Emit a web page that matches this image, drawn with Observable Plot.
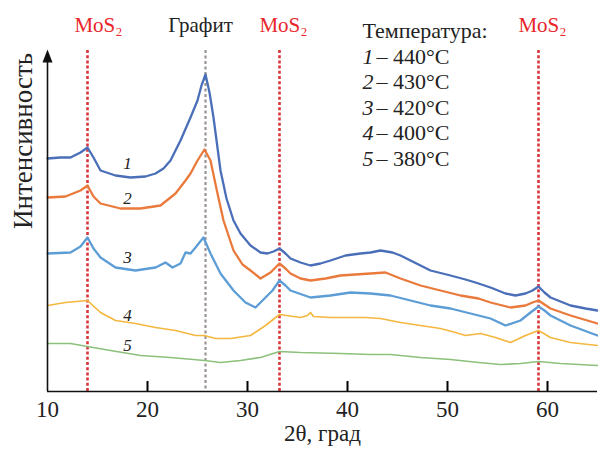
<!DOCTYPE html>
<html>
<head>
<meta charset="utf-8">
<script src="https://cdn.jsdelivr.net/npm/d3@7"></script>
<script src="https://cdn.jsdelivr.net/npm/@observablehq/plot@0.6"></script>
<style>
  html, body { margin: 0; padding: 0; background: #fff; }
  #chart svg, #chart svg text { font-family: "Liberation Serif", "Times New Roman", serif !important; }
</style>
</head>
<body>
<div id="chart"></div>
<script>
// 2θ positions (deg) and intensities (arbitrary units)
const c1x = [10.0,11.3,12.3,13.3,14.0,14.6,15.3,16.8,18.3,19.8,20.8,21.6,22.3,23.3,24.3,25.0,25.4,25.8,26.2,26.6,27.3,27.9,28.6,29.3,30.3,31.3,32.0,32.6,33.2,33.8,34.3,35.3,36.3,37.3,38.3,39.8,41.3,42.3,43.3,44.5,45.3,46.3,47.3,48.3,50.3,51.8,52.8,54.3,55.8,56.8,57.8,58.5,59.1,59.7,60.3,61.3,62.3,63.8,65.0];
const c1y = [233,234,234,239,244,234,221,216,214,215,218,223,231,251,274,291,306,317,299,274,221,193,171,158,146,139,138,140,143,138,133,129,126,128,131,136,138,139,141,139,136,131,126,121,116,112,109,104,98,96,98,101,105,99,94,90,86,83,81];

const c2x = [10.0,11.8,13.3,14.0,14.6,15.3,17.3,19.3,21.3,22.8,23.8,24.3,25.0,25.7,26.3,27.0,27.6,28.6,29.5,30.3,31.3,32.3,33.2,33.8,34.3,35.3,36.3,37.8,39.3,40.8,42.3,43.8,45.3,47.3,49.3,51.3,53.1,54.3,56.3,57.8,58.5,59.1,59.7,60.3,62.3,65.0];
const c2y = [194,195,201,206,195,188,183,183,186,198,211,218,231,242,231,198,171,141,127,121,113,119,128,123,118,113,111,113,116,117,118,119,113,106,101,96,93,89,84,86,89,91,87,83,76,68];

const c3x = [10.0,12.3,13.3,14.0,14.6,15.3,16.8,18.8,20.8,21.8,22.5,23.3,23.8,24.3,24.8,25.6,26.3,27.3,28.6,29.8,30.8,31.8,32.5,33.2,33.8,34.3,36.3,38.3,40.3,42.3,44.3,46.3,48.3,50.3,53.1,54.3,55.8,57.3,58.3,59.1,59.7,60.3,62.3,65.0];
const c3y = [138,139,145,154,143,134,124,121,124,129,124,128,139,138,144,154,138,118,101,89,84,94,101,111,106,101,94,96,99,98,96,91,86,83,76,73,66,71,79,85,81,76,66,56];

const c4x = [10.0,11.8,14.0,15.3,16.8,18.8,20.8,22.8,24.8,25.7,26.8,28.3,30.3,31.8,33.2,35.3,36.0,36.3,36.6,38.3,40.3,41.8,43.3,45.3,47.3,49.3,50.8,51.8,53.3,54.8,56.3,57.8,59.1,60.3,62.3,65.0];
const c4y = [86,89,91,79,71,68,64,61,56,56,53,53,56,66,77,74,76,79,75,74,74,74,73,69,66,63,59,56,58,54,49,56,61,54,49,46];

const c5x = [10.0,12.3,14.0,16.3,19.3,22.3,25.7,27.3,29.3,31.3,33.2,35.3,39.3,42.3,44.3,47.3,50.3,53.1,55.3,57.3,59.1,61.3,65.0];
const c5y = [48,48,45,41,36,34,31,29,31,34,40,39,38,37,37,34,32,29,27,28,30,28,26];

const curveNames = ["1","2","3","4","5"];
const temperatures = [440, 430, 420, 400, 380];
const colors = ["#4a6fb8","#ea7a3c","#5d9dd6","#f4b73f","#8cc17c"];
const mosPeaks = [14.0, 33.2, 59.1];
const graphitePeak = [25.8];
const xTicks = [10, 20, 30, 40, 50, 60];

const series = [[c1x,c1y],[c2x,c2y],[c3x,c3y],[c4x,c4y],[c5x,c5y]];
const rows = series.flatMap(([xs, ys], i) => xs.map((x, j) => ({x, y: ys[j], s: curveNames[i]})));
const noisyRows = rows.filter(d => d.s <= "3");
const smoothRows = rows.filter(d => d.s > "3");

// curve number labels (data position of each label)
const curveLabelX = [18.0, 18.0, 18.0, 18.0, 18.0];
const curveLabelY = [228, 193, 134, 76, 46];
const curveLabels = curveNames.map((n, i) => ({n, x: curveLabelX[i], y: curveLabelY[i]}));

// top labels
const topLabels = [
  {t: "MoS₂", x: 15.1, c: "#e8262b"},
  {t: "Графит", x: 25.3, c: "#222"},
  {t: "MoS₂", x: 33.6, c: "#e8262b"},
  {t: "MoS₂", x: 59.5, c: "#e8262b"}
];

const legendRows = curveNames.map((n, i) => ({n, t: `– ${temperatures[i]}°C`, y: 335 - i * 25.6}));

const arrowHead = {
  draw(ctx) { ctx.moveTo(0, -8); ctx.lineTo(5, 5); ctx.lineTo(-5, 5); ctx.closePath(); }
};

const serif = "'Liberation Serif', 'Times New Roman', serif";
const innerTicks = xTicks.slice(1);

const chart = Plot.plot({
  width: 598,
  height: 456,
  marginLeft: 47,
  marginRight: 1,
  marginTop: 50,
  marginBottom: 65,
  style: {fontFamily: serif, background: "#fff", overflow: "visible", color: "#222"},
  x: {domain: [10, 65]},
  y: {domain: [0, 341], axis: null},
  color: {domain: curveNames, range: colors},
  marks: [
    Plot.ruleX(mosPeaks, {stroke: "#d9363b", strokeWidth: 2.6, strokeDasharray: "3,2.2"}),
    Plot.ruleX(graphitePeak, {stroke: "#9b9393", strokeWidth: 2.2, strokeDasharray: "3,2.5"}),
    Plot.line(smoothRows, {x: "x", y: "y", z: "s", stroke: "s", strokeWidth: 1.7, strokeLinejoin: "round"}),
    Plot.line(noisyRows, {x: "x", y: "y", z: "s", stroke: "s", strokeWidth: 2.3, strokeLinejoin: "round"}),
    Plot.ruleY([0], {stroke: "#111", strokeWidth: 1.6}),
    Plot.ruleX([10], {y1: 0, y2: 334, stroke: "#111", strokeWidth: 1.6}),
    Plot.dot([10], {x: d => d, y: () => 334, symbol: arrowHead, fill: "#111", stroke: "none"}),
    Plot.ruleX(innerTicks, {y1: 0, y2: 10, stroke: "#000", strokeWidth: 2}),
    Plot.axisX({ticks: xTicks, tickSize: 0, tickPadding: 9, fontSize: 23, fontFamily: serif, label: null, tickFormat: d => String(d)}),
    Plot.text(["2θ, град"], {frameAnchor: "bottom", dy: 49, fontSize: 23, fontFamily: serif, fill: "#222"}),
    Plot.text(["Интенсивность"], {frameAnchor: "left", dx: -24, dy: 8, rotate: -90, fontSize: 27, fontFamily: serif, fill: "#222"}),
    Plot.text(topLabels, {x: "x", y: () => 366, text: "t", fill: "c", fontSize: 21, fontFamily: serif}),
    Plot.text(curveLabels, {x: "x", y: "y", text: "n", fontSize: 17, fontStyle: "italic", fontFamily: serif, fill: "#222"}),
    Plot.text(["Температура:"], {x: () => 41.5, y: () => 361, textAnchor: "start", fontSize: 22, fontFamily: serif, fill: "#222"}),
    Plot.text(legendRows, {x: () => 41.5, y: "y", text: "n", textAnchor: "start", fontSize: 22, fontStyle: "italic", fontFamily: serif, fill: "#222"}),
    Plot.text(legendRows, {x: () => 42.9, y: "y", text: "t", textAnchor: "start", fontSize: 22, fontFamily: serif, fill: "#222"})
  ]
});
document.getElementById("chart").appendChild(chart);
</script>
</body>
</html>
